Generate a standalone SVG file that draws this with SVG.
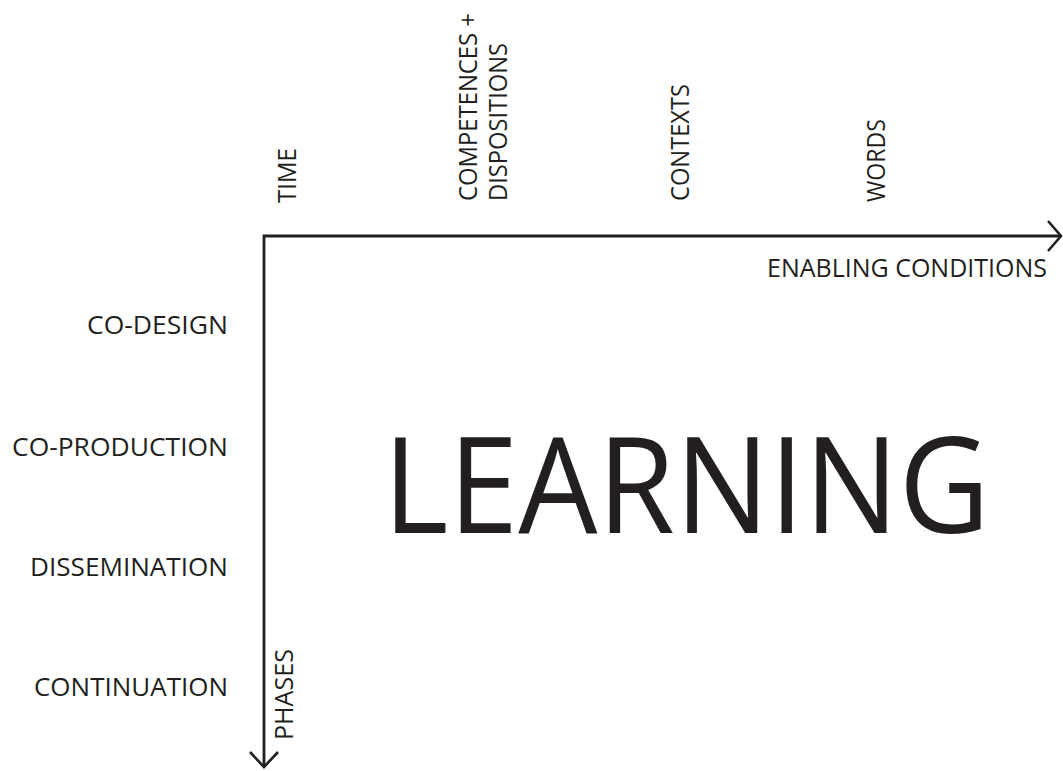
<svg xmlns="http://www.w3.org/2000/svg" width="1063" height="771" viewBox="0 0 1063 771">
  <style>
    .lbl { font-family: "Open Sans", "Noto Sans", "Liberation Sans", sans-serif; font-size: 26px; fill: #231f20; }
    .big { font-family: "Open Sans", "Noto Sans", "Liberation Sans", sans-serif; font-size: 134px; fill: #231f20; }
    .axis { fill: none; stroke: #231f20; stroke-width: 2.8; }
    .head { fill: none; stroke: #231f20; stroke-width: 2.6; stroke-linejoin: miter; }
  </style>
  <rect width="1063" height="771" fill="#ffffff"/>
  <g id="connectors">
    <path class="axis" d="M1061,236 H264 V767"/>
    <path class="head" d="M1048,221 L1061,236 L1048,251"/>
    <path class="head" d="M250,752 L264,767 L278,752"/>
  </g>
  <g id="learning"><text class="big" x="383" y="533" textLength="607" lengthAdjust="spacingAndGlyphs">LEARNING</text></g>
  <g id="enabling-conditions"><text class="lbl" x="767" y="277" textLength="280" lengthAdjust="spacingAndGlyphs">ENABLING CONDITIONS</text></g>
  <g id="phases"><text class="lbl" transform="translate(293,740) rotate(-90)" textLength="91" lengthAdjust="spacingAndGlyphs">PHASES</text></g>
  <g id="time"><text class="lbl" transform="translate(296,203) rotate(-90)" textLength="55" lengthAdjust="spacingAndGlyphs">TIME</text></g>
  <g id="competences">
    <text class="lbl" transform="translate(477,201) rotate(-90)" textLength="188" lengthAdjust="spacingAndGlyphs">COMPETENCES +</text>
    <text class="lbl" transform="translate(507,201) rotate(-90)" textLength="158" lengthAdjust="spacingAndGlyphs">DISPOSITIONS</text>
  </g>
  <g id="contexts"><text class="lbl" transform="translate(689,201) rotate(-90)" textLength="117" lengthAdjust="spacingAndGlyphs">CONTEXTS</text></g>
  <g id="words"><text class="lbl" transform="translate(885,202) rotate(-90)" textLength="83" lengthAdjust="spacingAndGlyphs">WORDS</text></g>
  <g id="co-design"><text class="lbl" x="87" y="334" textLength="141" lengthAdjust="spacingAndGlyphs">CO-DESIGN</text></g>
  <g id="co-production"><text class="lbl" x="12" y="456" textLength="216" lengthAdjust="spacingAndGlyphs">CO-PRODUCTION</text></g>
  <g id="dissemination"><text class="lbl" x="30" y="576" textLength="198" lengthAdjust="spacingAndGlyphs">DISSEMINATION</text></g>
  <g id="continuation"><text class="lbl" x="34" y="696" textLength="194" lengthAdjust="spacingAndGlyphs">CONTINUATION</text></g>
</svg>
